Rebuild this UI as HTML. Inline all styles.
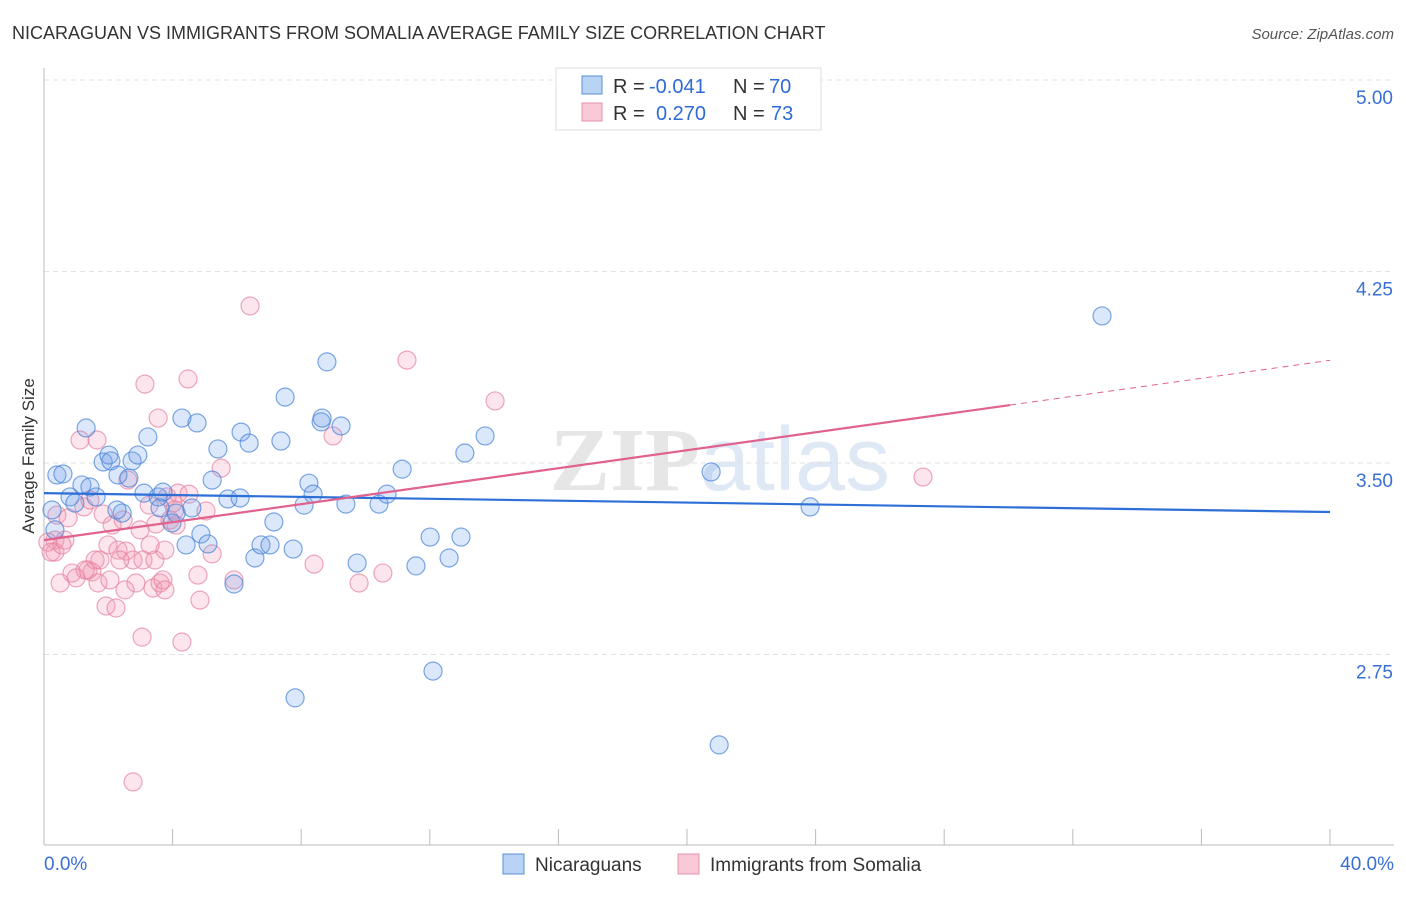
<!DOCTYPE html>
<html><head><meta charset="utf-8"><style>
body{margin:0;background:#fff;font-family:"Liberation Sans",sans-serif;}
</style></head><body>
<svg id="chart" width="1406" height="892" xmlns="http://www.w3.org/2000/svg" font-family="Liberation Sans, sans-serif">
<text x="12" y="39" font-size="18" fill="#333">NICARAGUAN VS IMMIGRANTS FROM SOMALIA AVERAGE FAMILY SIZE CORRELATION CHART</text>
<text x="1394" y="39" font-size="15" fill="#555" text-anchor="end" font-style="italic">Source: ZipAtlas.com</text>
<text x="720" y="490" font-size="90" fill="#e6e6e6" text-anchor="middle" font-weight="bold" font-family="Liberation Serif, serif">ZIP<tspan fill="#dfe8f5" font-family="Liberation Sans, sans-serif" font-weight="normal">atlas</tspan></text>
<g id="grid"></g>
<g id="axes"></g>
<g id="marks"></g>
<g id="trends"></g>
<text transform="translate(34,456) rotate(-90)" font-size="17" fill="#333" text-anchor="middle">Average Family Size</text>
<g font-size="20">
<rect x="556" y="68" width="265" height="62" fill="#fff" stroke="#ddd"/>
<rect x="582" y="76" width="20" height="18" fill="#b9d3f5" stroke="#5b8fd9"/>
<rect x="582" y="103" width="20" height="18" fill="#f9c9d7" stroke="#e890aa"/>
<text x="613" y="93" fill="#333">R =</text>
<text x="649" y="93" fill="#2f6ad6">-0.041</text>
<text x="733" y="93" fill="#333">N =</text>
<text x="769" y="93" fill="#2f6ad6">70</text>
<text x="613" y="120" fill="#333">R =</text>
<text x="656" y="120" fill="#2f6ad6">0.270</text>
<text x="733" y="120" fill="#333">N =</text>
<text x="771" y="120" fill="#2f6ad6">73</text>
</g>
<g>
<rect x="503" y="854" width="21" height="20" fill="#b9d3f5" stroke="#5b8fd9"/>
<text x="535" y="871" font-size="19" fill="#333">Nicaraguans</text>
<rect x="678" y="854" width="21" height="20" fill="#f9c9d7" stroke="#e890aa"/>
<text x="710" y="871" font-size="19" fill="#333">Immigrants from Somalia</text>
</g>
</svg>
<script>
const yTicks=[2.75,3.50,4.25,5.00];
const xTickLabels=["0.0%","40.0%"];
const blueX=[0.40,0.59,0.25,0.34,0.81,0.96,1.18,1.31,1.43,1.62,1.84,2.02,2.08,2.30,2.43,2.64,2.74,2.92,3.11,3.23,3.55,3.70,3.98,4.11,4.29,4.42,4.60,4.76,4.88,5.10,5.23,5.41,5.72,5.91,6.10,6.13,6.38,6.56,6.75,7.03,7.15,7.37,7.50,7.75,8.09,8.24,8.37,8.62,8.65,8.80,9.24,9.39,9.74,10.42,10.67,11.14,11.57,12.01,12.10,12.60,12.97,13.09,13.72,7.81,20.75,21.00,23.83,32.91,3.61,2.27];
const blueY=[3.453,3.457,3.316,3.238,3.367,3.343,3.414,3.637,3.406,3.367,3.504,3.531,3.508,3.453,3.304,3.441,3.508,3.531,3.382,3.602,3.367,3.386,3.265,3.304,3.676,3.179,3.324,3.657,3.222,3.183,3.433,3.555,3.359,3.026,3.363,3.621,3.578,3.128,3.179,3.179,3.269,3.586,3.758,3.163,3.335,3.421,3.378,3.661,3.676,3.896,3.645,3.339,3.108,3.339,3.378,3.476,3.097,3.210,2.685,3.128,3.210,3.539,3.606,2.580,3.465,2.396,3.328,4.076,3.324,3.316];
const pinkX=[0.40,0.34,0.34,0.50,0.65,0.75,0.87,1.00,1.12,1.24,1.37,1.49,1.65,1.68,1.74,1.84,1.93,1.99,2.12,2.24,2.30,2.46,2.55,2.61,2.77,2.86,3.05,3.08,3.14,3.27,3.39,3.45,3.48,3.55,3.61,3.70,3.76,3.83,3.92,4.01,4.11,4.17,4.29,4.48,4.51,4.79,5.04,5.23,5.51,5.91,6.41,2.77,8.40,8.99,9.80,10.54,11.29,14.03,27.34,0.12,0.22,0.56,3.30,1.59,1.28,2.52,2.05,1.43,2.99,3.76,4.07,4.85,2.36];
const pinkY=[3.296,3.198,3.151,3.030,3.198,3.285,3.069,3.050,3.590,3.328,3.081,3.073,3.590,3.030,3.120,3.300,2.940,3.179,3.257,2.932,3.159,3.277,3.155,3.433,3.120,3.030,2.818,3.120,3.809,3.335,3.010,3.120,3.261,3.676,3.030,3.042,3.159,3.367,3.277,3.343,3.257,3.382,2.799,3.829,3.378,3.061,3.312,3.144,3.480,3.042,4.115,2.251,3.104,3.606,3.030,3.069,3.903,3.743,3.445,3.190,3.151,3.179,3.179,3.120,3.081,3.003,3.042,3.355,3.238,3.003,3.316,2.963,3.120];
const blueTrend=[3.382,3.308];
const pinkTrend=[3.198,3.727,3.902];
const pinkSolidEnd=30.05;

const NS="http://www.w3.org/2000/svg";
const X0=44,X1=1330,Y5=80,PXV=255.33;
const sx=v=>X0+(v/40)*(X1-X0);
const sy=v=>Y5+(5-v)*PXV;
function mk(tag,attrs,parent){const e=document.createElementNS(NS,tag);for(const k in attrs)e.setAttribute(k,attrs[k]);parent.appendChild(e);return e;}
const grid=document.getElementById('grid'),axes=document.getElementById('axes'),marks=document.getElementById('marks'),trends=document.getElementById('trends');
yTicks.forEach(t=>{
  const l=mk('line',{x1:44,x2:1394,y1:sy(t),y2:sy(t),stroke:'#e2e2e2','stroke-dasharray':'5,4'},grid);
  
  
  const tx=mk('text',{x:1393,y:sy(t)+24,'font-size':19,fill:'#3a6fd6','text-anchor':'end'},axes);
  tx.textContent=t.toFixed(2);
  
  
});
const ya=mk('line',{x1:44,x2:44,y1:68,y2:845,stroke:'#bbb'},axes);


const xa=mk('line',{x1:44,x2:1394,y1:845,y2:845,stroke:'#bbb'},axes);


for(let i=0;i<=10;i++){
  const t=mk('line',{x1:sx(i*4),x2:sx(i*4),y1:829,y2:845,stroke:'#bbb'},axes);
  
  
}
[[0,'start',44],[40,'end',1394]].forEach((d,i)=>{
  const t=mk('text',{x:d[2],y:870,'font-size':19,fill:'#3a6fd6','text-anchor':d[1]},axes);
  t.textContent=xTickLabels[i];
  
  
});
pinkX.forEach((x,i)=>{
  const c=mk('circle',{cx:sx(x),cy:sy(pinkY[i]),r:9,fill:'rgba(242,150,178,0.25)',stroke:'rgba(230,130,160,0.7)','stroke-width':1.2},marks);
  
  
});
blueX.forEach((x,i)=>{
  const c=mk('circle',{cx:sx(x),cy:sy(blueY[i]),r:9,fill:'rgba(110,160,235,0.25)',stroke:'rgba(70,130,215,0.7)','stroke-width':1.2},marks);
  
  
});
const bl=mk('line',{x1:sx(0),y1:sy(blueTrend[0]),x2:sx(40),y2:sy(blueTrend[1]),stroke:'#2d6fd6','stroke-width':2.2},trends);


const pl=mk('line',{x1:sx(0),y1:sy(pinkTrend[0]),x2:sx(pinkSolidEnd),y2:sy(pinkTrend[1]),stroke:'#e0628e','stroke-width':2.2},trends);


const pd=mk('line',{x1:sx(pinkSolidEnd),y1:sy(pinkTrend[1]),x2:sx(40),y2:sy(pinkTrend[2]),stroke:'#e0628e','stroke-width':1,'stroke-dasharray':'6,5'},trends);


</script>
</body></html>
